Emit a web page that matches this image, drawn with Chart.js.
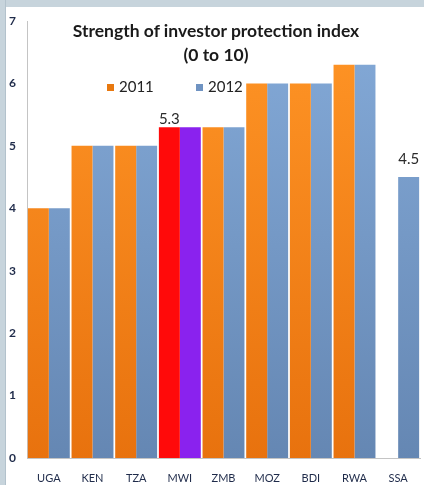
<!DOCTYPE html>
<html>
<head>
<meta charset="utf-8">
<script src="https://cdn.jsdelivr.net/npm/chart.js@4"></script>
<style>
  html, body { margin: 0; padding: 0; background: #fff; }
  #wrap { position: relative; width: 424px; height: 485px; overflow: hidden; font-family: Lato, "Open Sans", sans-serif; }
  #chart { position: absolute; left: 0; top: 0; }
  .band-top { position: absolute; left: 0; top: 0; width: 424px; height: 7px; background: #c7d4dc; }
  .band-left { position: absolute; left: 0; top: 0; width: 5px; height: 485px; background: #c7d4dc; border-right: 1px solid #b3c2cc; }
  .title { position: absolute; left: 0; width: 432px; text-align: center; font-weight: bold; font-size: 17.5px; color: #1a1a1a; }
  .legend { position: absolute; top: 77px; font-size: 15px; color: #222; }
  .legend i { display: inline-block; width: 7px; height: 7px; margin-right: 5px; vertical-align: 1px; }
</style>
</head>
<body>
<div id="wrap">
  <canvas id="chart" width="424" height="485"></canvas>
  <div class="band-top"></div>
  <div class="band-left"></div>
  <div class="title" style="top:20px">Strength of investor protection index</div>
  <div class="title" style="top:44px">(0 to 10)</div>
  <div class="legend" style="left:107px"><i style="background:#e8780f"></i>2011</div>
  <div class="legend" style="left:196px"><i style="background:#6f93c2"></i>2012</div>
</div>
<script>
const countries = ['UGA', 'KEN', 'TZA', 'MWI', 'ZMB', 'MOZ', 'BDI', 'RWA', 'SSA'];
const values2011 = [4, 5, 5, 5.3, 5.3, 6, 6, 6.3, null];
const values2012 = [4, 5, 5, 5.3, 5.3, 6, 6, 6.3, 4.5];
const yTicks = [0, 1, 2, 3, 4, 5, 6, 7];

// which bars get a value written over them: [dataset index, category]
const callouts = [[0, 'MWI'], [1, 'SSA']];
const highlight = 'MWI';

function shade(ctx, top, bottom) {
  const area = ctx.chart.chartArea;
  if (!area) return bottom;
  const g = ctx.chart.ctx.createLinearGradient(0, area.top, 0, area.bottom);
  g.addColorStop(0, top);
  g.addColorStop(1, bottom);
  return g;
}

const calloutPlugin = {
  id: 'callouts',
  afterDatasetsDraw(chart) {
    const c = chart.ctx;
    c.save();
    c.font = '15px Lato, "Open Sans", sans-serif';
    c.fillStyle = '#2a2a2a';
    c.textAlign = 'center';
    c.textBaseline = 'bottom';
    callouts.forEach(([ds, cat]) => {
      const i = countries.indexOf(cat);
      const bar = chart.getDatasetMeta(ds).data[i];
      const v = chart.data.datasets[ds].data[i];
      const lift = ds === 1 ? 10 : 0;
      c.fillText(v.toFixed(1), bar.x, bar.y - lift);
    });
    c.restore();
  }
};

const ctx = document.getElementById('chart').getContext('2d');
new Chart(ctx, {
  type: 'bar',
  data: {
    labels: countries,
    datasets: [
      {
        label: '2011',
        data: values2011,
        backgroundColor: (c) => countries[c.dataIndex] === highlight
          ? '#ff0a0a' : shade(c, '#ff9526', '#e8720e')
      },
      {
        label: '2012',
        data: values2012,
        backgroundColor: (c) => countries[c.dataIndex] === highlight
          ? '#8a22ee' : shade(c, '#84aad8', '#6587b3')
      }
    ]
  },
  options: {
    responsive: false,
    animation: false,
    datasets: { bar: { barPercentage: 1, categoryPercentage: 0.96, borderWidth: 0 } },
    layout: { padding: { left: 9, top: 21, right: 4, bottom: 0 } },
    plugins: { legend: { display: false }, title: { display: false }, tooltip: { enabled: false } },
    scales: {
      x: {
        grid: { display: false },
        border: { color: '#c4c4c4', width: 1 },
        ticks: { color: '#1f2b4a', font: { family: 'Lato', size: 11 }, padding: 6 },
        afterFit: (s) => { s.height = 27; }
      },
      y: {
        min: 0,
        max: 7,
        afterBuildTicks: (s) => { s.ticks = yTicks.map(v => ({ value: v })); },
        grid: { display: false },
        border: { color: '#c4c4c4', width: 1 },
        ticks: { color: '#1f2b4a', font: { family: 'Lato', size: 12, weight: 'bold' }, crossAlign: 'far', padding: 6 },
        afterFit: (s) => { s.width = 18; }
      }
    }
  },
  plugins: [calloutPlugin]
});
</script>
</body>
</html>
